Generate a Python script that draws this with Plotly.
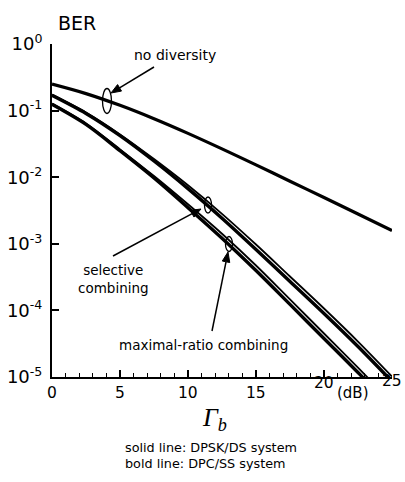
import plotly.graph_objects as go

# ---- data ----
snr_db = [0, 2.5, 5, 7.5, 10, 12.5, 15, 17.5, 20, 22.5, 25]

ber_no_div = [0.25, 0.18, 0.12, 0.0755, 0.0455, 0.0266, 0.0153, 0.0087, 0.00495, 0.0028, 0.00158]

ber_sel_dpsk = [0.1736, 0.0935, 0.0439, 0.01873, 7.56e-3, 2.82e-3, 9.76e-4, 3.23e-4, 1.068e-4, 3.41e-5, 1.017e-5]
ber_sel_dpc = [0.1695, 0.0906, 0.0421, 0.01749, 6.73e-3, 2.42e-3, 8.21e-4, 2.72e-4, 8.99e-5, 2.87e-5, 8.56e-6]

ber_mrc_dpsk = [0.1271, 0.0640, 0.0262, 0.01042, 3.92e-3, 1.415e-3, 4.72e-4, 1.46e-4, 4.50e-5, 1.38e-5, 4.14e-6]
ber_mrc_dpc = [0.1241, 0.0620, 0.0250, 9.73e-3, 3.49e-3, 1.213e-3, 3.97e-4, 1.23e-4, 3.79e-5, 1.17e-5, 3.49e-6]

x_tick_vals = [0, 5, 10, 15, 20, 25]
x_tick_text = ["0", "5", "10", "15", "20", "25"]
y_tick_vals = [1, 1e-1, 1e-2, 1e-3, 1e-4, 1e-5]
y_tick_text = ["10<sup>0</sup>", "10<sup>-1</sup>", "10<sup>-2</sup>", "10<sup>-3</sup>",
               "10<sup>-4</sup>", "10<sup>-5</sup>"]

W, H = 405, 482
ML, MR, MT, MB = 52, 13, 44, 105
PW, PH = W - ML - MR, H - MT - MB
FONT = "DejaVu Sans, Arial, sans-serif"


def px(x, y):
    return (x - ML) / PW, (H - MB - y) / PH


fig = go.Figure()
line_kw = dict(shape="spline", smoothing=0.9)
fig.add_trace(go.Scatter(x=snr_db, y=ber_no_div, mode="lines",
                         line=dict(color="black", width=3.2, **line_kw), name="no diversity"))
fig.add_trace(go.Scatter(x=snr_db, y=ber_sel_dpsk, mode="lines",
                         line=dict(color="black", width=1.8, **line_kw), name="SC DPSK/DS"))
fig.add_trace(go.Scatter(x=snr_db, y=ber_sel_dpc, mode="lines",
                         line=dict(color="black", width=3.4, **line_kw), name="SC DPC/SS"))
fig.add_trace(go.Scatter(x=snr_db, y=ber_mrc_dpsk, mode="lines",
                         line=dict(color="black", width=1.8, **line_kw), name="MRC DPSK/DS"))
fig.add_trace(go.Scatter(x=snr_db, y=ber_mrc_dpc, mode="lines",
                         line=dict(color="black", width=3.4, **line_kw), name="MRC DPC/SS"))

annotations = []
shapes = []


def text(x, y, s, size=13, xanchor="center", yanchor="middle", **kw):
    xp, yp = px(x, y)
    annotations.append(dict(x=xp, y=yp, xref="paper", yref="paper", text=s, showarrow=False,
                            xanchor=xanchor, yanchor=yanchor,
                            font=dict(family=kw.pop("family", FONT), size=size, color="black"), **kw))


def arrow(x_tip, y_tip, x_tail, y_tail, head_len=10, head_half=3.8):
    dx, dy = x_tip - x_tail, y_tip - y_tail
    n = (dx * dx + dy * dy) ** 0.5
    ux, uy = dx / n, dy / n
    bx, by = x_tip - ux * head_len, y_tip - uy * head_len
    lx, ly = bx - uy * head_half, by + ux * head_half
    rx, ry = bx + uy * head_half, by - ux * head_half
    a0, b0 = px(x_tail, y_tail)
    a1, b1 = px(bx, by)
    shapes.append(dict(type="line", xref="paper", yref="paper", x0=a0, y0=b0, x1=a1, y1=b1,
                       line=dict(color="black", width=1.5)))
    pts = [px(x_tip, y_tip), px(lx, ly), px(rx, ry)]
    path = "M {} {} L {} {} L {} {} Z".format(*[c for p in pts for c in p])
    shapes.append(dict(type="path", xref="paper", yref="paper", path=path,
                       fillcolor="black", line=dict(color="black", width=1)))


text(77, 23, "BER", size=19)
text(132, 55, "no diversity", size=14, xanchor="left")
text(76, 279, "selective<br>combining", size=13.5, xanchor="left")
text(117, 345, "maximal-ratio combining", size=13.5, xanchor="left")

# x tick labels (the last two sit higher, as in the reference)
x_lab_y = [393, 393, 393, 393, 383, 381]
for v, t, yy in zip(x_tick_vals, x_tick_text, x_lab_y):
    text(ML + v / 25 * PW, yy, t, size=15.5)
text(353, 393, "(dB)", size=15)
text(214, 419, "<i>Γ</i><sub><i>b</i></sub>", size=26, family="Liberation Serif, Times New Roman, serif")
text(123, 447, "solid line: DPSK/DS system", size=12.8, xanchor="left")
text(123, 463, "bold line: DPC/SS system", size=12.8, xanchor="left")

arrow(111, 93, 154, 67)
arrow(201, 209, 113, 256)
arrow(228, 252, 212, 331)

for cx, cy, w, h in [(107, 101, 9, 25), (208, 205, 7, 16), (229, 244, 7, 15)]:
    x0, y0 = px(cx - w / 2, cy + h / 2)
    x1, y1 = px(cx + w / 2, cy - h / 2)
    shapes.append(dict(type="circle", xref="paper", yref="paper", x0=x0, y0=y0, x1=x1, y1=y1,
                       line=dict(color="black", width=1.3), fillcolor="rgba(0,0,0,0)"))

fig.update_layout(
    width=W, height=H, margin=dict(l=ML, r=MR, t=MT, b=MB, autoexpand=False),
    paper_bgcolor="white", plot_bgcolor="white", showlegend=False,
    font=dict(family=FONT, color="black"),
    annotations=annotations, shapes=shapes,
    xaxis=dict(range=[0, 25], tickvals=x_tick_vals, showticklabels=False, ticks="inside",
               ticklen=7, tickwidth=1.5, tickcolor="black", showgrid=False, zeroline=False,
               showline=True, linewidth=2, linecolor="black", automargin=False,
               minor=dict(ticks="inside", ticklen=4, tickwidth=1.2, tickcolor="black", dtick=1,
                          showgrid=False)),
    yaxis=dict(type="log", range=[-5, 0], tickvals=y_tick_vals, ticktext=y_tick_text,
               ticks="inside", ticklen=7, tickwidth=1.5, tickcolor="black", showgrid=False,
               zeroline=False, showline=True, linewidth=2, linecolor="black", automargin=False,
               tickfont=dict(size=18), ticklabelstandoff=4),
)

fig.write_html("out.html")
